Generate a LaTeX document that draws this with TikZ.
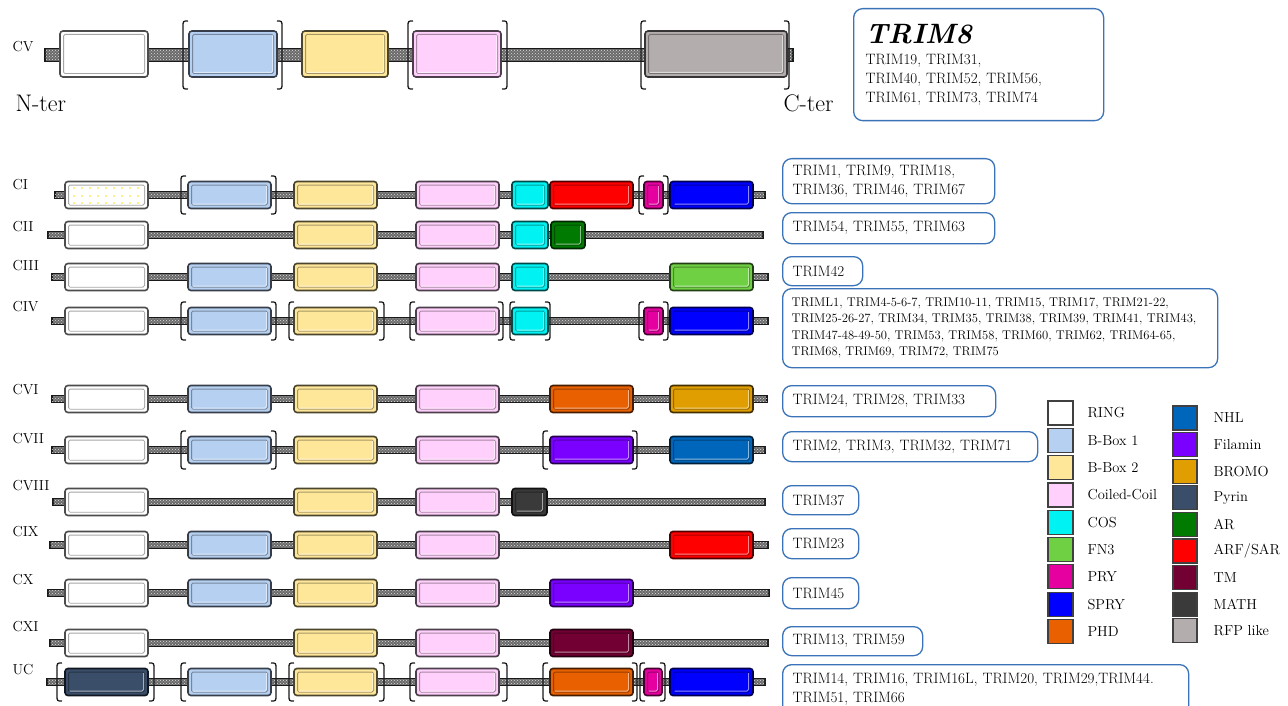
\documentclass[tikz,border=0pt]{standalone}
\usepackage{fontspec}
\usepackage{tikz}
\usetikzlibrary{patterns}
\definecolor{Ring}{HTML}{FFFFFF}
\definecolor{BBoxA}{HTML}{B6D0F2}
\definecolor{BBoxB}{HTML}{FFE79A}
\definecolor{CoilCoil}{HTML}{FFD0FB}
\definecolor{COS}{HTML}{00F2F2}
\definecolor{FNIII}{HTML}{70D044}
\definecolor{PRY}{HTML}{E600A0}
\definecolor{SPRY}{HTML}{0000FF}
\definecolor{PHD}{HTML}{E86000}
\definecolor{NHL}{HTML}{0066BB}
\definecolor{Filamin}{HTML}{7A00FF}
\definecolor{Bromo}{HTML}{E09E00}
\definecolor{Pyrin}{HTML}{3A4E6A}
\definecolor{AR}{HTML}{007A00}
\definecolor{ARF}{HTML}{FF0000}
\definecolor{TM}{HTML}{720032}
\definecolor{MATH}{HTML}{3A3A3A}
\definecolor{RFP}{HTML}{B3AEAD}
\definecolor{Frame}{HTML}{3A73B8}
\definecolor{Chain}{HTML}{6A6A6A}

\newcommand{\domhalf}{13.5}
% one domain: colour, left, right, centre line
\newcommand{\domain}[4]{%
  \draw[dombox,draw=#1!30!black,fill=#1] (#2,#4-\domhalf) rectangle (#3,#4+\domhalf);
  \draw[dombevel,draw=#1!65!black] (#2+3.5,#4-\domhalf+3.5) rectangle (#3-3.5,#4+\domhalf-3.5);
  \draw[dombevel,draw=white!55!#1] (#3-4.5,#4-\domhalf+4.5) -- (#3-4.5,#4+\domhalf-4.5) -- (#2+4.5,#4+\domhalf-4.5);}
% protein chain: left, right, centre line, half thickness
\newcommand{\backbone}[4]{%
  \filldraw[fill=Chain,draw=black!90,line width=1.2pt] (#1,#3-#4) rectangle (#2,#3+#4);
  \fill[pattern=crosshatch dots,pattern color=white!75!gray] (#1,#3-#4+1.5) rectangle (#2,#3+#4-1.5);}
% optional part: left, right, centre line, half height
\newcommand{\domparens}[4]{%
  \draw[brack] (#1+5,#3-#4) .. controls (#1,#3-#4) .. (#1,#3-#4+6) -- (#1,#3+#4-6) .. controls (#1,#3+#4) .. (#1+5,#3+#4);
  \draw[brack] (#2-5,#3-#4) .. controls (#2,#3-#4) .. (#2,#3-#4+6) -- (#2,#3+#4-6) .. controls (#2,#3+#4) .. (#2-5,#3+#4);}

\begin{document}
\begin{tikzpicture}[x=1pt,y=-1pt,
  dombox/.style={line width=1.6pt,rounded corners=3pt},
  dombevel/.style={line width=1pt,rounded corners=1.5pt},
  brack/.style={line width=1.3pt,black!90},
  rowlab/.style={anchor=west,font=\fontsize{14.5}{16}\selectfont},
  trimbox/.style={draw=Frame,line width=1.3pt,rounded corners=9pt,anchor=north west,
    align=left,inner xsep=10pt,inner ysep=2pt,font=\fontsize{15}{19}\selectfont},
  legtext/.style={anchor=west,font=\fontsize{14.5}{16}\selectfont},
  key/.style={draw=black!75,line width=1.2pt}]
  \useasboundingbox (0,0) rectangle (1288,706);

  % row labels
  \foreach \t/\y in {CV/47,CI/185,CII/227,CIII/266,CIV/307,CVI/390,CVII/439,
    CVIII/486,CIX/532,CX/580,CXI/627,UC/670} {
    \node[rowlab] (r\t) at (9,\y) {\t};
  }

  % CV
  \renewcommand{\domhalf}{23}
  \backbone{45}{793}{55}{6.5}
  \domparens{183}{282}{55}{34}
  \domparens{408}{507}{55}{34}
  \domparens{641}{789}{55}{34}
  \foreach \c/\a/\b in {Ring/60/148,BBoxA/189/277,BBoxB/302/388,CoilCoil/413/501,RFP/645/787} {
    \domain{\c}{\a}{\b}{54}
  }
  \node[anchor=west,font=\fontsize{24}{26}\selectfont] (nter) at (12,103) {N-ter};
  \node[anchor=west,font=\fontsize{24}{26}\selectfont] (cter) at (780,103) {C-ter};
  \renewcommand{\domhalf}{13.5}

  % CI
  \backbone{55}{765}{195}{3.8}
  \domparens{181}{276}{195}{19}
  \domparens{639}{668}{195}{19}
  \foreach \c/\a/\b in {Ring/65/148,BBoxA/188/271,BBoxB/294/377,CoilCoil/416/499,
    COS/512/548,ARF/550/633,PRY/644/663,SPRY/670/753} {
    \domain{\c}{\a}{\b}{195}
  }
  \foreach \px in {74,82,...,142} \foreach \py in {188,196,203} {
    \fill[yellow!85!orange] (\px,\py) circle (0.8);
  }

  % CII
  \backbone{48}{763}{235}{3.8}
  \foreach \c/\a/\b in {Ring/65/148,BBoxB/294/377,CoilCoil/416/499,COS/512/548,AR/551/585} {
    \domain{\c}{\a}{\b}{235}
  }

  % CIII
  \backbone{52}{768}{277}{3.8}
  \foreach \c/\a/\b in {Ring/65/148,BBoxA/188/271,BBoxB/294/377,CoilCoil/416/499,
    COS/512/548,FNIII/670/753} {
    \domain{\c}{\a}{\b}{277}
  }

  % CIV
  \backbone{52}{768}{321}{3.8}
  \foreach \l/\r in {181/276,289/384,410/503,510/550,639/668} {
    \domparens{\l}{\r}{321}{19}
  }
  \foreach \c/\a/\b in {Ring/65/148,BBoxA/188/271,BBoxB/294/377,CoilCoil/416/499,
    COS/512/548,PRY/644/663,SPRY/670/753} {
    \domain{\c}{\a}{\b}{321}
  }

  % CVI
  \backbone{52}{767}{399}{3.8}
  \foreach \c/\a/\b in {Ring/65/148,BBoxA/188/271,BBoxB/294/377,CoilCoil/416/499,
    PHD/550/633,Bromo/670/753} {
    \domain{\c}{\a}{\b}{399}
  }

  % CVII
  \backbone{52}{765}{450}{3.8}
  \domparens{181}{276}{450}{19}
  \domparens{543}{637}{450}{19}
  \foreach \c/\a/\b in {Ring/65/148,BBoxA/188/271,BBoxB/294/377,CoilCoil/416/499,
    Filamin/550/633,NHL/670/753} {
    \domain{\c}{\a}{\b}{450}
  }

  % CVIII
  \backbone{53}{765}{502}{3.8}
  \foreach \c/\a/\b in {Ring/65/148,BBoxB/294/377,CoilCoil/416/499,MATH/512/547} {
    \domain{\c}{\a}{\b}{502}
  }

  % CIX
  \backbone{50}{768}{545}{3.8}
  \foreach \c/\a/\b in {Ring/65/148,BBoxA/188/271,BBoxB/294/377,CoilCoil/416/499,ARF/670/753} {
    \domain{\c}{\a}{\b}{545}
  }

  % CX
  \backbone{48}{769}{593}{3.8}
  \foreach \c/\a/\b in {Ring/65/148,BBoxA/188/271,BBoxB/294/377,CoilCoil/416/499,Filamin/550/633} {
    \domain{\c}{\a}{\b}{593}
  }

  % CXI
  \backbone{50}{768}{643}{3.8}
  \foreach \c/\a/\b in {Ring/65/148,BBoxB/294/377,CoilCoil/416/499,TM/550/633} {
    \domain{\c}{\a}{\b}{643}
  }

  % UC
  \backbone{47}{765}{682}{3.8}
  \foreach \l/\r in {57/154,181/276,289/384,410/507,543/637,640/665} {
    \domparens{\l}{\r}{682}{19}
  }
  \foreach \c/\a/\b in {Pyrin/65/148,BBoxA/188/271,BBoxB/294/377,CoilCoil/416/499,
    PHD/550/633,PRY/644/662,SPRY/670/753} {
    \domain{\c}{\a}{\b}{682}
  }

  % member lists
  \node[trimbox,text width=226pt,minimum height=112pt,inner xsep=12pt] (tCV) at (853,8)
    {{\fontsize{28}{30}\selectfont\bfseries\itshape TRIM8}\\[2pt]
     TRIM19,~TRIM31,\\TRIM40,~TRIM52,~TRIM56,\\TRIM61,~TRIM73,~TRIM74};
  \node[trimbox,text width=192pt,minimum height=45pt] (tCI) at (782,158)
    {TRIM1,~TRIM9,~TRIM18,\\TRIM36,~TRIM46,~TRIM67};
  \node[trimbox,text width=192pt,minimum height=31pt] (tCII) at (782,212)
    {TRIM54,~TRIM55,~TRIM63};
  \node[trimbox,text width=60pt,minimum height=29pt] (tCIII) at (782,256) {TRIM42};
  \node[trimbox,text width=417pt,minimum height=79pt,inner xsep=9pt,
    font=\fontsize{12.6}{16.5}\selectfont] (tCIV) at (782,288)
    {TRIML1,~TRIM4-5-6-7,~TRIM10-11,~TRIM15,~TRIM17,~TRIM21-22,\\
     TRIM25-26-27,~TRIM34,~TRIM35,~TRIM38,~TRIM39,~TRIM41,~TRIM43,\\
     TRIM47-48-49-50,~TRIM53,~TRIM58,~TRIM60,~TRIM62,~TRIM64-65,\\
     TRIM68,~TRIM69,~TRIM72,~TRIM75};
  \node[trimbox,text width=193pt,minimum height=31pt] (tCVI) at (782,385)
    {TRIM24,~TRIM28,~TRIM33};
  \node[trimbox,text width=235pt,minimum height=30pt] (tCVII) at (782,431)
    {TRIM2,~TRIM3,~TRIM32,~TRIM71};
  \node[trimbox,text width=56pt,minimum height=29pt] (tCVIII) at (782,485) {TRIM37};
  \node[trimbox,text width=56pt,minimum height=30pt] (tCIX) at (782,528) {TRIM23};
  \node[trimbox,text width=56pt,minimum height=31pt] (tCX) at (782,577) {TRIM45};
  \node[trimbox,text width=120pt,minimum height=29pt] (tCXI) at (782,626)
    {TRIM13,~TRIM59};
  \node[trimbox,text width=386pt,minimum height=50pt] (tUC) at (782,664)
    {TRIM14,~TRIM16,~TRIM16L,~TRIM20,~TRIM29,TRIM44.\\TRIM51,~TRIM66};

  % key
  \foreach \c/\t [count=\i from 0] in {Ring/RING,BBoxA/B-Box 1,BBoxB/B-Box 2,
    CoilCoil/Coiled-Coil,COS/COS,FNIII/FN3,PRY/PRY,SPRY/SPRY,PHD/PHD} {
    \fill[key,fill=\c] (1048,401+27.3*\i) rectangle +(25,24);
    \node[legtext] (k\c) at (1084,413+27.3*\i) {\t};
  }
  \foreach \c/\t [count=\i from 0] in {NHL/NHL,Filamin/Filamin,Bromo/BROMO,Pyrin/Pyrin,
    AR/AR,ARF/{ARF/SAR},TM/TM,MATH/MATH,RFP/RFP like} {
    \fill[key,fill=\c] (1173,406+26.6*\i) rectangle +(24,24);
    \node[legtext] (k\c) at (1210,418+26.6*\i) {\t};
  }
\end{tikzpicture}
\end{document}
